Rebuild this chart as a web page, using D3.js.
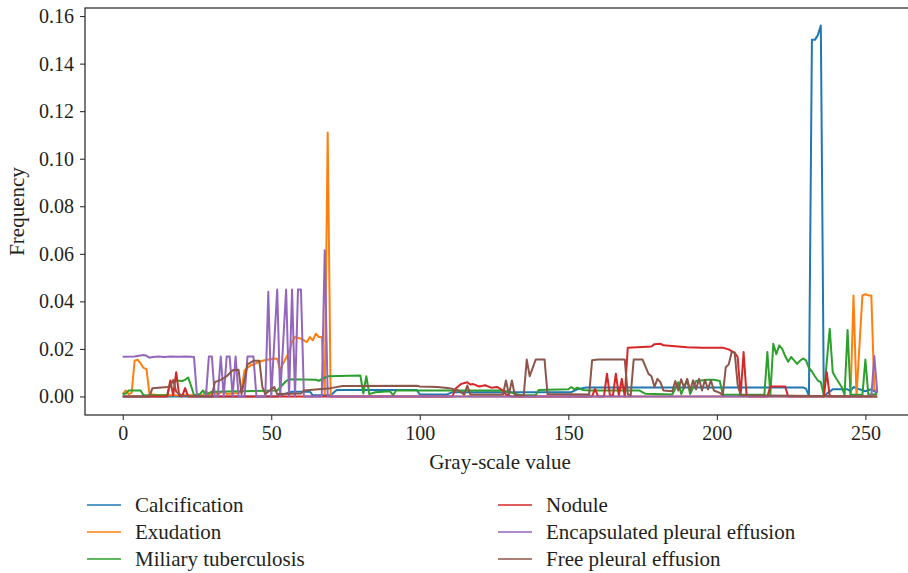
<!DOCTYPE html>
<html>
<head>
<meta charset="utf-8">
<script src="https://cdn.jsdelivr.net/npm/d3@7"></script>
<style>
  body { margin: 0; background: #fff; }
  text { font-family: "Liberation Serif", "DejaVu Serif", serif; fill: #231f20; }
</style>
</head>
<body>
<svg class="histo"></svg>
<script>
// Series names (legend order) and colours
let names = ["Calcification", "Exudation", "Miliary tuberculosis", "Nodule", "Encapsulated pleural effusion", "Free pleural effusion"];
let colors = ["#1f77b4", "#ff7f0e", "#2ca02c", "#d62728", "#9467bd", "#8c564b"];

// Tick labels
let xTicks = [0, 50, 100, 150, 200, 250];
let yTicks = [0, 0.02, 0.04, 0.06, 0.08, 0.10, 0.12, 0.14, 0.16];

// [gray-scale value, frequency]
let calcification = [[0,0],[52,0],[54,0.0008],[57,0.002],[63,0.002],[64,0.0005],[70,0.0005],[72,0.0027],[99,0.0027],[100,0.0008],[109,0.0008],[111,0.0018],[151,0.0018],[153,0.003],[156,0.0038],[229,0.0038],[230,0.0033],[231,0.0003],[232,0.150],[233,0.150],[234,0.152],[235,0.156],[236,0],[237,0.0012],[239,0.003],[244,0.003],[245,0.0022],[246,0.004],[248,0.003],[250,0.0022],[252,0.003],[254,0.0015]];
let exudation = [[0,0.001],[1,0.0025],[2,0.001],[3,0.0015],[4,0.015],[5,0.0155],[6,0.014],[7,0.012],[8,0.0115],[9,0.001],[12,0.0005],[27,0.0005],[28,0.0025],[29,0.0008],[31,0.002],[32,0.0008],[34,0.0025],[35,0.001],[39,0.0015],[40,0.0025],[41,0.011],[43,0.013],[47,0.015],[51,0.016],[52,0.0159],[53,0.011],[54,0.0138],[56,0.0187],[57,0.0229],[58,0.025],[60,0.0243],[62,0.0229],[63,0.025],[64,0.0236],[65,0.0264],[66,0.025],[67,0.025],[68,0.001],[69,0.111],[70,0],[245,0],[246,0.0425],[247,0],[249,0.0425],[250,0.043],[251,0.0425],[252,0.0425],[253,0.003],[254,0.002]];
let miliary = [[0,0.001],[1,0.0012],[2,0.0025],[6,0.0025],[7,0.0005],[15,0.0005],[16,0.006],[18,0.0067],[20,0.0065],[21,0.007],[22,0.008],[23,0.0045],[24,0.0005],[26,0.001],[27,0.0025],[28,0.0008],[30,0.002],[52,0.0025],[55,0.0065],[56,0.0072],[65,0.007],[66,0.0066],[69,0.0085],[80,0.0088],[81,0.0012],[82,0.0085],[83,0.001],[85,0.0018],[90,0.0022],[91,0.0005],[92,0.0025],[128,0.0025],[131,0.0015],[134,0.0005],[139,0.0005],[140,0.0027],[150,0.003],[151,0.004],[152,0.003],[153,0.0037],[155,0.0027],[157,0.0025],[174,0.0025],[176,0.0011],[185,0.0008],[187,0.006],[188,0.001],[190,0.007],[191,0.001],[193,0.0065],[197,0.007],[199,0.007],[201,0.0065],[202,0.0007],[216,0.0007],[217,0.0187],[218,0.0007],[219,0.0222],[220,0.0178],[221,0.0215],[222,0.02],[223,0.017],[224,0.0146],[225,0.0166],[226,0.0152],[227,0.0137],[228,0.015],[229,0.016],[230,0.0152],[231,0.012],[232,0.0105],[233,0.0085],[234,0.0067],[235,0.006],[236,0.0007],[238,0.0285],[239,0.0102],[240,0.008],[241,0.006],[242,0.004],[243,0.0007],[244,0.028],[245,0.0007],[249,0.0007],[250,0.0155],[251,0.0007],[254,0.001]];
let nodule = [[0,0],[15,0],[16,0.0067],[17,0.0005],[18,0.0102],[19,0.0003],[20,0],[21,0.0035],[22,0],[111,0],[112,0.0032],[114,0.0053],[116,0.006],[117,0.005],[118,0.0052],[120,0.0042],[122,0.0047],[124,0.0037],[126,0.004],[128,0.0025],[129,0.0008],[131,0],[158,0],[159,0.0032],[160,0],[162,0],[163,0.0096],[164,0.0005],[165,0.0003],[166,0.0096],[167,0.0005],[168,0.0074],[169,0],[170,0.0205],[178,0.021],[179,0.022],[181,0.0222],[182,0.0215],[190,0.0207],[195,0.0205],[202,0.0205],[204,0.0198],[206,0.0183],[207,0.0166],[208,0.0004],[209,0.0187],[210,0.0004],[211,0],[217,0],[218,0.0042],[223,0.0042],[224,0],[236,0],[237,0.0102],[238,0],[254,0]];
let encapsulated = [[0,0.0167],[4,0.0168],[7,0.0174],[8,0.0171],[9,0.0163],[10,0.0166],[12,0.0168],[14,0.0166],[16,0.0168],[19,0.0167],[21,0.0168],[23,0.0167],[24,0.0166],[25,0],[28,0],[29,0.0168],[30,0.0168],[31,0],[32,0],[33,0.0168],[34,0],[35,0.0168],[36,0.0168],[37,0],[38,0.0168],[39,0],[41,0],[42,0.0168],[44,0.0168],[45,0],[48,0],[49,0.044],[50,0],[52,0.045],[53,0],[55,0.045],[56,0],[57,0.045],[58,0],[59,0.045],[60,0.045],[61,0],[67,0],[68,0.0615],[69,0],[252,0],[253,0.017],[254,0.0015]];
let freeEffusion = [[0,0],[9,0],[10,0.0035],[12,0.0037],[15,0.004],[16,0.0042],[17,0.007],[18,0.002],[20,0.0003],[30,0],[31,0.006],[33,0.007],[35,0.0085],[37,0.011],[39,0.0112],[40,0.001],[42,0.0135],[44,0.015],[46,0.015],[47,0.004],[48,0.001],[51,0.004],[52,0.001],[60,0.0012],[61,0.0025],[66,0.003],[70,0.0035],[74,0.0044],[99,0.0045],[100,0.0042],[106,0.004],[110,0.0035],[113,0.0025],[115,0.0008],[116,0.0046],[117,0.0008],[128,0.0008],[129,0.0067],[130,0.0008],[131,0.0067],[132,0.0005],[135,0.0005],[136,0.0155],[137,0.0085],[139,0.0155],[142,0.0155],[143,0.001],[157,0.0008],[158,0.0152],[160,0.0155],[169,0.0155],[170,0.001],[171,0.0005],[172,0.0155],[175,0.0155],[177,0.0095],[178,0.0085],[179,0.004],[180,0.0074],[181,0.006],[182,0.0025],[185,0.0022],[186,0.0065],[187,0.0025],[188,0.0072],[189,0.0035],[190,0.0074],[191,0.0025],[192,0.0068],[193,0.003],[194,0.0074],[195,0.0025],[196,0.007],[197,0.003],[198,0.0068],[199,0.0025],[201,0.0015],[202,0.0005],[203,0.0123],[204,0.0135],[205,0.0187],[206,0.0185],[207,0.005],[208,0.0005],[254,0]];

let series = [calcification, exudation, miliary, nodule, encapsulated, freeEffusion];

// Plot frame
let margin = {top: 8, right: -7, bottom: 158, left: 85};
let W = 908, H = 573;
let width = W - margin.left - margin.right;
let height = H - margin.top - margin.bottom;

let svg = d3.select(".histo")
    .attr("width", W)
    .attr("height", H);

let g = svg.append("g")
    .attr("transform", `translate(${margin.left},${margin.top})`);

// Scales (matplotlib style 5% padding)
let x = d3.scaleLinear().domain([-12.7, 266.7]).range([0, width]);
let y = d3.scaleLinear().domain([-0.0078, 0.1634]).range([height, 0]);

// Axes
let xAxis = g.append("g")
    .attr("transform", `translate(0,${height})`)
    .call(d3.axisBottom(x).tickValues(xTicks).tickSize(5).tickPadding(6).tickFormat(d3.format("d")));
let yAxis = g.append("g")
    .call(d3.axisLeft(y).tickValues(yTicks).tickSize(5).tickPadding(6).tickFormat(d3.format(".2f")));

[xAxis, yAxis].forEach(function(a) {
  a.select(".domain").remove();
  a.selectAll("line").attr("stroke", "#231f20").attr("stroke-width", 1);
  a.selectAll("text").attr("font-size", 20).attr("fill", "#231f20")
      .style("font-family", "'Liberation Serif', serif");
});

// Lines
let line = d3.line()
    .x(function(d) { return x(d[0]); })
    .y(function(d) { return y(d[1]); });

g.append("g").selectAll("path")
  .data(series)
  .enter().append("path")
    .attr("d", line)
    .attr("fill", "none")
    .attr("stroke", function(d, i) { return colors[i]; })
    .attr("stroke-width", 2)
    .attr("stroke-linejoin", "round");

// Box
g.append("rect")
    .attr("width", width)
    .attr("height", height)
    .attr("fill", "none")
    .attr("stroke", "#231f20")
    .attr("stroke-width", 1.2);

// Axis titles
svg.append("text")
    .attr("x", margin.left + width / 2)
    .attr("y", 469)
    .attr("text-anchor", "middle")
    .attr("font-size", 21)
    .text("Gray-scale value");

svg.append("text")
    .attr("transform", `translate(24,${margin.top + height / 2}) rotate(-90)`)
    .attr("text-anchor", "middle")
    .attr("font-size", 21)
    .text("Frequency");

// Legend, two columns of three
let legend = svg.append("g").selectAll("g")
  .data(names)
  .enter().append("g")
    .attr("transform", function(d, i) {
      return `translate(${i < 3 ? 87 : 498},${505 + (i % 3) * 27})`;
    });

legend.append("line")
    .attr("x1", 0).attr("x2", 34)
    .attr("stroke", function(d, i) { return colors[i]; })
    .attr("stroke-width", 1.5);

legend.append("text")
    .attr("x", 48)
    .attr("dy", "0.33em")
    .attr("font-size", 21)
    .text(function(d) { return d; });
</script>
</body>
</html>
